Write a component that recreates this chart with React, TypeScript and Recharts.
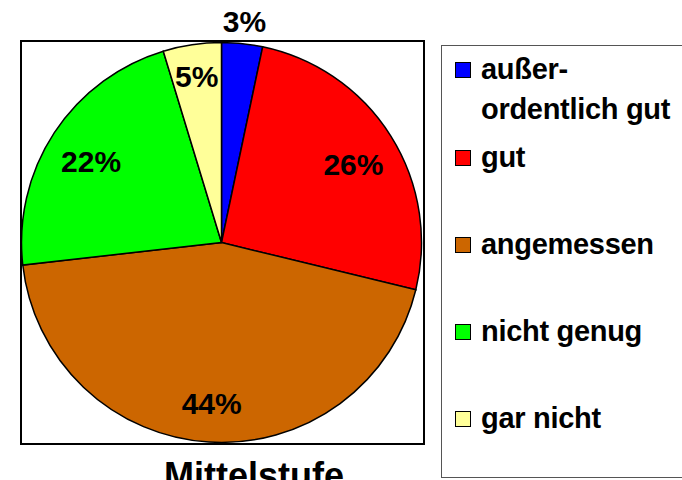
import React from 'react'
import { PieChart, Pie, Cell, Legend } from 'recharts'

const categories = ['außer-\nordentlich gut', 'gut', 'angemessen', 'nicht genug', 'gar nicht']
const shares = [3.3, 25.5, 44.4, 22.1, 4.7]
const colors = ['#0000FF', '#FF0000', '#CC6600', '#00FF00', '#FFFF99']
const chartTitle = 'Mittelstufe'

const data = categories.map((name, i) => ({ name, value: shares[i], color: colors[i] }))

const FONT = '"Liberation Sans", Arial, sans-serif'
const RAD = Math.PI / 180

const renderLabel = (props: any) => {
  const { cx, cy, midAngle, outerRadius, value } = props
  // small slices: 3% sits outside the pie, 5% a bit further out than the rest
  let r = outerRadius * 0.78
  let dy = 5
  if (value < 4) { r = outerRadius + 22; dy = 0 }
  else if (value < 6) { r = outerRadius * 0.84; dy = 0 }
  const x = cx + r * Math.cos(-midAngle * RAD)
  const y = cy + r * Math.sin(-midAngle * RAD) + dy
  return (
    <text
      x={x}
      y={y}
      textAnchor="middle"
      dominantBaseline="central"
      fill="#000"
      style={{ fontFamily: FONT, fontWeight: 'bold', fontSize: 30 }}
    >
      {Math.round(value)}%
    </text>
  )
}

const LegendBox = () => {
  return (
    <div style={{
      position: 'relative',
      width: 250,
      height: 433,
      boxSizing: 'border-box',
      border: '1px solid #555',
      background: '#fff',
      fontFamily: FONT,
      fontWeight: 'bold',
      fontSize: 29,
      color: '#000'
    }}>
      {data.map((d, i) => {
        const top = i === 0 ? 3 : 91 + (i - 1) * 87
        return (
          <div key={d.name} style={{ position: 'absolute', left: 0, top, width: '100%' }}>
            <div style={{
              position: 'absolute',
              left: 13,
              top: 13,
              width: 16,
              height: 16,
              boxSizing: 'border-box',
              border: '1.5px solid #000',
              background: d.color
            }} />
            <div style={{
              position: 'absolute',
              left: 39,
              top: 0,
              lineHeight: '40px',
              whiteSpace: 'pre',
              letterSpacing: '-0.3px'
            }}>
              {d.name}
            </div>
          </div>
        )
      })}
    </div>
  )
}

export default function App() {
  return (
    <div style={{ position: 'absolute', left: 0, top: 0, width: 682, height: 480, background: '#fff', overflow: 'hidden' }}>
      <div style={{
        position: 'absolute',
        left: 20,
        top: 40,
        width: 405,
        height: 405,
        boxSizing: 'border-box',
        border: '2px solid #000'
      }} />
      <div style={{ position: 'absolute', left: 0, top: 0 }}>
        <PieChart width={682} height={480} margin={{ top: 0, right: 0, bottom: 0, left: 0 }}>
          <Pie
            data={data}
            dataKey="value"
            nameKey="name"
            cx={221.5}
            cy={242.5}
            outerRadius={200}
            startAngle={90}
            endAngle={-270}
            stroke="#000"
            strokeWidth={1.5}
            label={renderLabel}
            labelLine={false}
            isAnimationActive={false}
          >
            {data.map((d, i) => (
              <Cell key={`cell-${i}`} fill={d.color} />
            ))}
          </Pie>
          <Legend
            content={<LegendBox />}
            wrapperStyle={{ left: 441, top: 45, width: 250, height: 433 }}
          />
        </PieChart>
      </div>
      <div style={{
        position: 'absolute',
        left: 154,
        top: 458,
        width: 200,
        textAlign: 'center',
        fontFamily: FONT,
        fontWeight: 'bold',
        fontSize: 36,
        lineHeight: '36px',
        color: '#000'
      }}>
        {chartTitle}
      </div>
    </div>
  )
}
